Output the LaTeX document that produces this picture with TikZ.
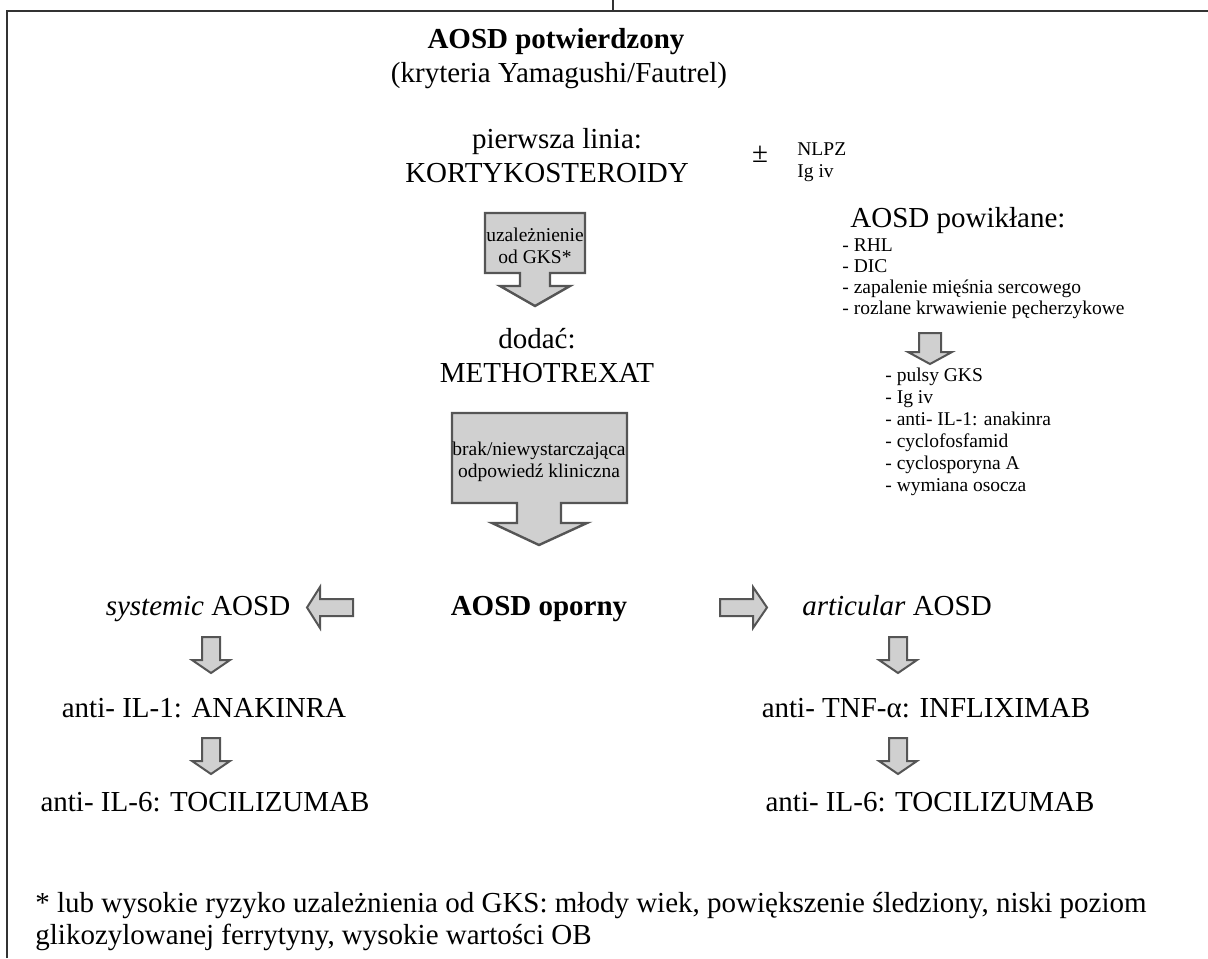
\documentclass[tikz,border=0pt]{standalone}
\usepackage{fontspec}
\setmainfont{Liberation Serif}
\definecolor{boxfill}{HTML}{D0D0D0}
\definecolor{boxline}{HTML}{555555}
\definecolor{framecol}{HTML}{333333}
\begin{document}
\begin{tikzpicture}[x=0.5pt,y=-0.5pt,
  big/.style={font=\fontsize{14.5}{17}\selectfont, inner sep=0pt},
  bigb/.style={font=\fontsize{14.5}{17}\selectfont\bfseries, inner sep=0pt},
  small/.style={font=\fontsize{9.75}{11}\selectfont, inner sep=0pt},
  foot/.style={font=\fontsize{14.5}{16}\selectfont, inner sep=0pt},
  blockarrow/.style={fill=boxfill, draw=boxline, line width=1.2pt, line join=miter},
  framestyle/.style={draw=framecol, line width=0.7pt},
  dnarrow/.pic={\draw[blockarrow, line width=1pt] (-9,0) -- (9,0) -- (9,23) -- (19,23) -- (0,36) -- (-19,23) -- (-9,23) -- cycle;}
]
\useasboundingbox (0,0) rectangle (1208,958);
% frame
\draw[framestyle] (7,958) -- (7,11) -- (1208,11);
\draw[framestyle] (613,0) -- (613,11);

% top texts
\node[bigb, anchor=base] (title) at (556,48) {AOSD potwierdzony};
\node[big, anchor=base] (crit) at (559,82) {(kryteria Yamagushi/Fautrel)};
\node[big, anchor=base] (first) at (557,148) {pierwsza linia:};
\node[big, anchor=base] (kort) at (547,182) {KORTYKOSTEROIDY};
\node[big, anchor=base] (pm) at (760,162) {±};
\node[small, anchor=base west] (nlpz) at (797,155) {NLPZ};
\node[small, anchor=base west] (igiv) at (797,177) {Ig iv};

% block arrow 1
\draw[blockarrow] (485,213) -- (585,213) -- (585,273) -- (550,273) -- (550,286) -- (570,286) -- (535,306) -- (500,286) -- (520,286) -- (520,273) -- (485,273) -- cycle;
\node[small, anchor=base] (dep1) at (535,241) {uzależnienie};
\node[small, anchor=base] (dep2) at (535,263) {od GKS*};

\node[big, anchor=base] (add) at (537,348) {dodać:};
\node[big, anchor=base] (mtx) at (547,382) {METHOTREXAT};

% block arrow 2
\draw[blockarrow] (452,413) -- (627,413) -- (627,503) -- (561,503) -- (561,523) -- (587,523) -- (539,545) -- (492,523) -- (517,523) -- (517,503) -- (452,503) -- cycle;
\node[small, anchor=base] (resp1) at (539,455) {brak/niewystarczająca};
\node[small, anchor=base] (resp2) at (539,477) {odpowiedź kliniczna};

% refractory
\node[bigb, anchor=base] (ref) at (539,615) {AOSD oporny};
\draw[blockarrow, line width=1pt] (353,599) -- (320,599) -- (320,587) -- (307,607.5) -- (320,628) -- (320,616) -- (353,616) -- cycle;
\draw[blockarrow, line width=1pt] (720,599) -- (753,599) -- (753,587) -- (767,607.5) -- (753,628) -- (753,616) -- (720,616) -- cycle;

% left column
\node[big, anchor=base] (sys) at (198,615) {\textit{systemic} AOSD};
\pic at (211,637) {dnarrow};
\node[big, anchor=base] (ana) at (204,717) {anti- IL-1: ANAKINRA};
\pic at (211,738) {dnarrow};
\node[big, anchor=base] (toc1) at (205,811) {anti- IL-6: TOCILIZUMAB};

% right column
\node[big, anchor=base] (art) at (897,615) {\textit{articular} AOSD};
\pic at (898,637) {dnarrow};
\node[big, anchor=base] (inf) at (926,717) {anti- TNF-α: INFLIXIMAB};
\pic at (898,738) {dnarrow};
\node[big, anchor=base] (toc2) at (930,811) {anti- IL-6: TOCILIZUMAB};

% complicated AOSD
\node[big, anchor=base west] (comp) at (850,227) {AOSD powikłane:};
\node[small, anchor=base west] (c1) at (842,251) {- RHL};
\node[small, anchor=base west] (c2) at (842,272) {- DIC};
\node[small, anchor=base west] (c3) at (842,293) {- zapalenie mięśnia sercowego};
\node[small, anchor=base west] (c4) at (842,314) {- rozlane krwawienie pęcherzykowe};
\draw[blockarrow, line width=1pt] (919,333) -- (941,333) -- (941,352) -- (952,352) -- (930,364) -- (908,352) -- (919,352) -- cycle;
\node[small, anchor=base west] (t1) at (885,381) {- pulsy GKS};
\node[small, anchor=base west] (t2) at (885,403) {- Ig iv};
\node[small, anchor=base west] (t3) at (885,425) {- anti- IL-1: anakinra};
\node[small, anchor=base west] (t4) at (885,447) {- cyclofosfamid};
\node[small, anchor=base west] (t5) at (885,469) {- cyclosporyna A};
\node[small, anchor=base west] (t6) at (885,491) {- wymiana osocza};

% footnote
\node[foot, anchor=base west] (fn1) at (35,912) {* lub wysokie ryzyko uzależnienia od GKS: młody wiek, powiększenie śledziony, niski poziom};
\node[foot, anchor=base west] (fn2) at (35,944) {glikozylowanej ferrytyny, wysokie wartości OB};
\end{tikzpicture}
\end{document}
